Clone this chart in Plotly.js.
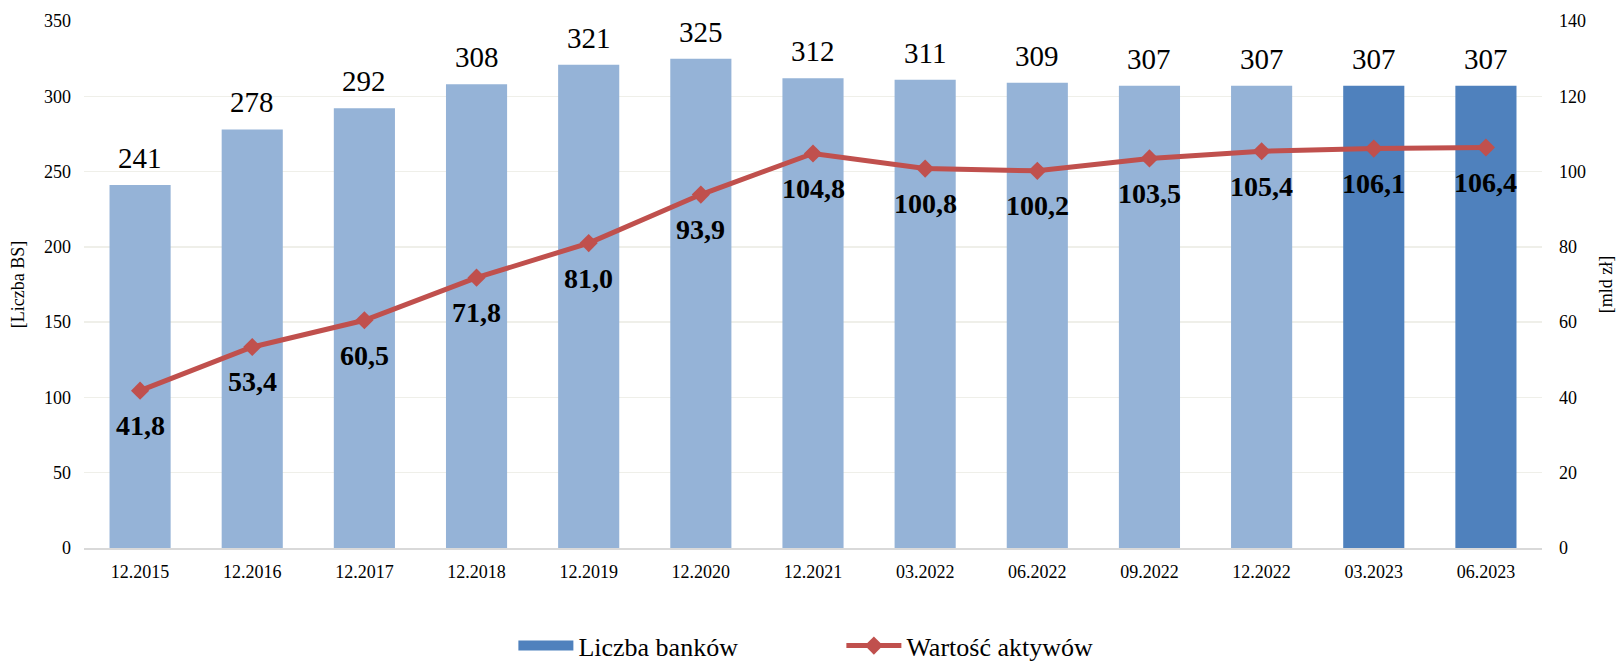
<!DOCTYPE html>
<html>
<head>
<meta charset="utf-8">
<script src="https://cdn.plot.ly/plotly-3.0.1.min.js"></script>
<style>html,body{margin:0;padding:0;background:#fff;}</style>
</head>
<body>
<div id="chart" style="width:1620px;height:667px;"></div>
<script>
const categories = ["12.2015","12.2016","12.2017","12.2018","12.2019","12.2020","12.2021","03.2022","06.2022","09.2022","12.2022","03.2023","06.2023"];
const banks = [241,278,292,308,321,325,312,311,309,307,307,307,307];
const assets = [41.8,53.4,60.5,71.8,81.0,93.9,104.8,100.8,100.2,103.5,105.4,106.1,106.4];
const highlightFrom = 11; // last two periods drawn darker

const FONT = "Liberation Serif";
const LIGHT = "#95B3D7", DARK = "#4F81BD", RED = "#C0504D";

const lightCats = categories.slice(0, highlightFrom);
const darkCats = categories.slice(highlightFrom);

const traces = [
  {type:"bar", x: lightCats, y: banks.slice(0, highlightFrom), marker:{color:LIGHT}, name:"Liczba banków", showlegend:false, yaxis:"y"},
  {type:"bar", x: darkCats, y: banks.slice(highlightFrom), marker:{color:DARK}, name:"Liczba banków", showlegend:false, yaxis:"y"},
  // legend-only proxy so the legend swatch is a wide rectangle like the original
  {type:"scatter", mode:"lines", x:[null], y:[null], name:"Liczba banków", line:{color:DARK, width:14}, showlegend:true, yaxis:"y"},
  {type:"scatter", mode:"lines+markers", x: categories, y: assets, name:"Wartość aktywów", yaxis:"y2",
   line:{color:RED, width:5}, marker:{symbol:"diamond", size:14, color:RED}}
];

const fmt = v => v.toFixed(1).replace(".", ",");
const annotations = [];
categories.forEach((c, i) => {
  annotations.push({x:i, y:banks[i], xref:"x", yref:"y", text:String(banks[i]), showarrow:false,
    yshift:27, yanchor:"middle", font:{family:FONT, size:29, color:"#000"}});
  annotations.push({x:i, y:assets[i], xref:"x", yref:"y2", text:"<b>"+fmt(assets[i])+"</b>", showarrow:false,
    yshift:-35, yanchor:"middle", font:{family:FONT, size:28, color:"#000"}});
});

const layout = {
  width:1620, height:667,
  margin:{l:84, r:78, t:21, b:119},
  paper_bgcolor:"#fff", plot_bgcolor:"#fff",
  font:{family:FONT, color:"#000", size:18},
  barmode:"overlay", bargap:0.455,
  xaxis:{type:"category", categoryorder:"array", categoryarray:categories, range:[-0.5, categories.length-0.5],
    showgrid:false, zeroline:false, showline:true, linecolor:"#D9D9D9", linewidth:2,
    ticks:"", tickfont:{family:FONT, size:18}, ticklabelstandoff:6, automargin:false},
  yaxis:{range:[0,350], dtick:50, showgrid:true, gridcolor:"#EFEFE9", gridwidth:1.5, zeroline:false,
    ticks:"", tickfont:{family:FONT, size:18}, ticklabelstandoff:12, automargin:false,
    title:{text:"[Liczba BS]", font:{family:FONT, size:18}, standoff:14}},
  yaxis2:{range:[0,140], dtick:20, overlaying:"y", side:"right", showgrid:false, zeroline:false,
    ticks:"", tickfont:{family:FONT, size:18}, ticklabelstandoff:16, automargin:false,
    title:{text:"[mld zł]", font:{family:FONT, size:18}, standoff:14}},
  legend:{orientation:"h", x:0.2945, xanchor:"left", yref:"container", y:0.032, yanchor:"middle",
    font:{family:FONT, size:26}, itemwidth:55, entrywidth:258, entrywidthmode:"pixels", bgcolor:"rgba(0,0,0,0)"},
  annotations: annotations,
  showlegend:true
};

Plotly.newPlot("chart", traces, layout, {displayModeBar:false, staticPlot:true});
</script>
</body>
</html>
